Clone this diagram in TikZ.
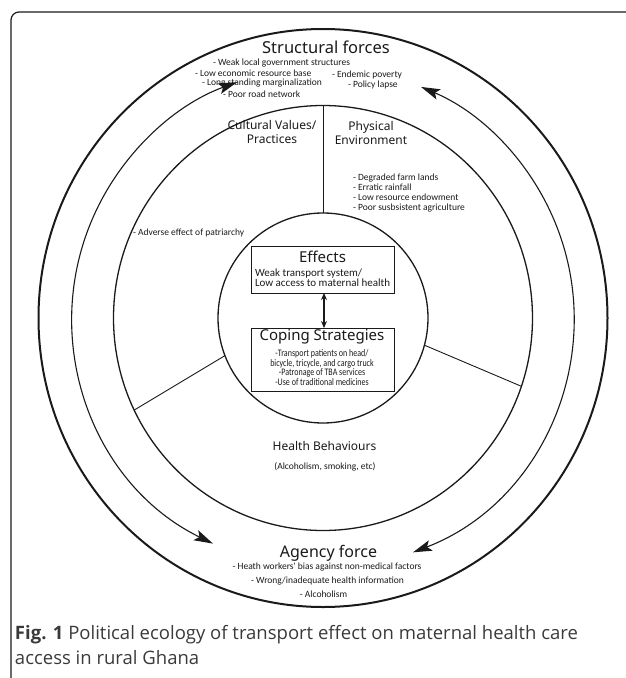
\documentclass[tikz,border=0pt]{standalone}
\usepackage{fontspec}
\setmainfont{Noto Sans}
\newfontfamily\listfont{Carlito}
\newfontfamily\condfont[FakeStretch=0.8]{Carlito}
\newfontfamily\capfont{Open Sans}
\usetikzlibrary{arrows.meta,shapes.geometric,calc}
\definecolor{ink}{HTML}{1A1A1A}
\definecolor{capgray}{HTML}{3A3A3A}
\begin{document}
\begin{tikzpicture}[x=1pt,y=-1pt,
  every node/.style={inner sep=0pt,outer sep=0pt},
  ring/.style={draw=ink,ellipse},
  bigtitle/.style={anchor=base,font=\fontsize{16.5}{19}\selectfont,text=ink},
  sub/.style={anchor=base,font=\fontsize{12}{13.5}\selectfont,text=ink,align=center},
  item/.style={anchor=base west,font=\listfont\fontsize{9.5}{11}\selectfont,text=ink},
  citem/.style={anchor=base,font=\listfont\fontsize{9.5}{11}\selectfont,text=ink},
  cond/.style={anchor=base,font=\condfont\fontsize{10}{11}\selectfont,text=ink},
  boxed/.style={draw=ink,line width=1pt,rectangle},
  biga/.style={{Stealth[length=19pt,width=11pt,inset=4pt]}-{Stealth[length=19pt,width=11pt,inset=4pt]}},
  smalla/.style={{Stealth[length=7pt,width=6pt]}-{Stealth[length=7pt,width=6pt]}}]
\useasboundingbox (0,0) rectangle (625,678);
% frame
\draw[ink,line width=1.2pt,rounded corners=8pt] (11,690) -- (11,12) -- (640,12);
\coordinate (C) at (323,318);
% rings
\node[ring,line width=2pt,minimum width=569pt,minimum height=578pt] (outer) at (C) {};
\node[ring,line width=1.3pt,minimum width=419pt,minimum height=425pt] (mid) at (C) {};
\node[ring,circle,line width=1.3pt,minimum size=210pt] (inner) at (C) {};
% double-headed arcs
\draw[ink,line width=1.1pt,biga] ($(C)+(116:251)$) arc[start angle=116,end angle=250,radius=251];
\draw[ink,line width=1.1pt,biga] ($(C)+(69:251)$) arc[start angle=69,end angle=-67,radius=251];
% dividers
\draw[ink,line width=0.9pt] (mid.north) -- (inner.north);
\draw[ink,line width=0.9pt] (inner.-15) -- (mid.-19.6);
\draw[ink,line width=0.9pt] (inner.201) -- (mid.206);
% structural forces
\node[bigtitle] (sf) at (326,53.5) {Structural forces};
\node[item] (sf1) at (213,65) {- Weak local government structures};
\node[item] (sf2) at (195,76) {- Low economic resource base};
\node[item] (sf3) at (332,77) {- Endemic poverty};
\node[item] (sf4) at (202,85.5) {- Long standing marginalization};
\node[item] (sf5) at (348,87) {- Policy lapse};
\node[item] (sf6) at (223,97.5) {- Poor road network};
% cultural / physical
\node[sub] (cv) at (272,143) {Cultural Values/\\Practices};
\node[sub] (pe) at (371,144) {Physical\\Environment};
\node[item] (pe1) at (353,180) {- Degraded farm lands};
\node[item] (pe2) at (353,190) {- Erratic rainfall};
\node[item] (pe3) at (353,200) {- Low resource endowment};
\node[item] (pe4) at (353,210) {- Poor susbsistent agriculture};
\node[item] (cv1) at (133,235.5) {- Adverse effect of patriarchy};
% effects box
\node[boxed,minimum width=143pt,minimum height=47pt] (eff) at (322.5,269.5) {};
\node[anchor=base,font=\fontsize{15}{17}\selectfont,text=ink] (efft) at (322.5,262) {Effects};
\node[item,font=\listfont\fontsize{11}{12}\selectfont] (eff1) at (255,276.5) {Weak transport system/};
\node[item,font=\listfont\fontsize{11}{12}\selectfont] (eff2) at (255,286.5) {Low access to maternal health};
% coping box
\node[boxed,minimum width=143pt,minimum height=63pt] (cop) at (322.5,359.5) {};
\node[anchor=base,font=\fontsize{15}{17}\selectfont,text=ink] (copt) at (322,340.5) {Coping Strategies};
\node[cond] (cop1) at (322,356) {-Transport patients on head/};
\node[cond] (cop2) at (322,366) {bicycle, tricycle, and cargo truck};
\node[cond] (cop3) at (322,375.5) {-Patronage of TBA services};
\node[cond] (cop4) at (322,385.5) {-Use of traditional medicines};
\draw[ink,line width=1.4pt,smalla] ([xshift=1.5pt]eff.south) -- ([xshift=1.5pt]cop.north);
% health behaviours
\node[sub] (hb) at (324.5,450) {Health Behaviours};
\node[citem] (hb1) at (325,469) {(Alcoholism, smoking, etc)};
% agency force
\node[anchor=base,font=\fontsize{16}{18}\selectfont,text=ink] (af) at (328.5,557.3) {Agency force};
\node[citem] (af1) at (327,569.3) {- Heath workers' bias against non-medical factors};
\node[citem] (af2) at (327.5,583.3) {- Wrong/inadequate health information};
\node[citem] (af3) at (323.5,597.3) {- Alcoholism};
% caption
\node[anchor=base west,font=\capfont\fontsize{18.5}{22}\selectfont,text=capgray] (cap1) at (15,639) {\textbf{Fig. 1} Political ecology of transport effect on maternal health care};
\node[anchor=base west,font=\capfont\fontsize{18.5}{22}\selectfont,text=capgray] (cap2) at (15,664) {access in rural Ghana};
\end{tikzpicture}
\end{document}
